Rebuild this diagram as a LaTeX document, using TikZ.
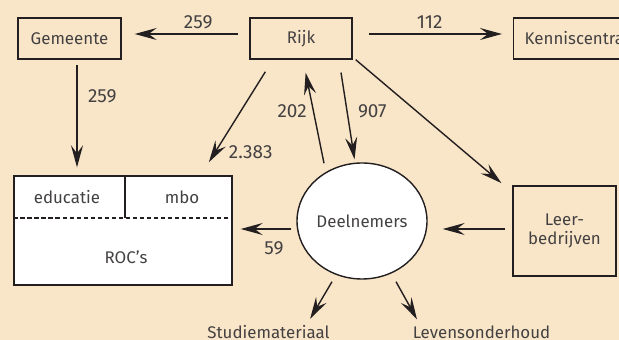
\documentclass[tikz,border=0pt]{standalone}
\usepackage{fontspec}
\setmainfont{Fira Sans}
\usepackage{tikz}
\usetikzlibrary{arrows.meta,shapes.geometric}
\definecolor{paper}{RGB}{249,230,200}
\definecolor{ink}{RGB}{35,31,32}

\begin{document}
\begin{tikzpicture}[font=\fontsize{12}{14}\selectfont, text=ink!85,
  box/.style={draw=ink, line width=1pt, minimum height=1.025cm},
  num/.style={font=\fontsize{13.5}{16}\selectfont},
  arr/.style={draw=ink, line width=1pt, -{Stealth[length=5.5mm,width=3mm,inset=2mm]}}]
  \fill[paper] (0,0) rectangle (15.475,-8.5);
  \useasboundingbox (0,0) rectangle (15.475,-8.5);
  % top row
  \node[box, minimum width=2.575cm] (gem) at (1.7375,-0.9625) {Gemeente};
  \node[box, minimum width=2.55cm] (rijk) at (7.525,-0.9625) {Rijk};
  \node[box, anchor=west, inner xsep=0.275cm] (kenn) at (12.825,-0.9625) {Kenniscentra};
  % ROC block
  \node[box, fill=white, minimum width=5.45cm, minimum height=2.725cm] (roc) at (3.075,-5.7625) {};
  \draw[ink, line width=1pt] ([xshift=0.05cm]roc.north) -- ([xshift=0.05cm]roc.north |- 0,-5.45);
  \draw[ink, line width=1pt, dash pattern=on 3pt off 2pt] (roc.west |- 0,-5.45) -- (roc.east |- 0,-5.45);
  \node (edu) at (1.675,-4.925) {educatie};
  \node (mbo) at (4.55,-4.925) {mbo};
  \node (rocs) at (3.15,-6.425) {ROC’s};
  % right part
  \node[ellipse, draw=ink, line width=1pt, fill=white, inner sep=0pt, minimum width=3.25cm, minimum height=2.9cm] (deel) at (9.05,-5.525) {Deelnemers};
  \node[box, minimum width=2.575cm, minimum height=2.25cm, align=center] (leer) at (14.1125,-5.775) {Leer-\\bedrijven};
  \node[anchor=base] (stud) at (6.7125,-8.475) {Studiemateriaal};
  \node[anchor=base] (lev) at (12.0375,-8.475) {Levensonderhoud};
  % flows
  \draw[arr, shorten <=0.275cm, shorten >=0.325cm] ([yshift=0.1125cm]rijk.west) -- node[num, pos=0.4, above]{259} ([yshift=0.1125cm]gem.east);
  \draw[arr, shorten <=0.4cm, shorten >=0.275cm] ([yshift=0.1125cm]rijk.east) -- node[num, pos=0.48, above]{112} ([yshift=0.1125cm]kenn.west);
  \draw[arr, shorten <=0.125cm, shorten >=0.2cm] ([xshift=0.1875cm]gem.south) -- node[num, pos=0.32, right=4pt]{259} ([xshift=0.1875cm]gem.south |- roc.north);
  \draw[arr, shorten <=0.355cm, shorten >=0.385cm] ([xshift=0.59cm]rijk.south west) -- node[num, pos=0.8, right=6pt]{2.383} ([xshift=-0.8cm]roc.north east);
  \draw[arr, shorten >=0.33cm] ([xshift=-0.95cm,yshift=-0.025cm]deel.north) -- node[num, pos=0.5, left=1pt]{202} ([xshift=0.05cm]rijk.south);
  \draw[arr, shorten <=0.325cm, shorten >=0.075cm] ([xshift=0.95cm]rijk.south) -- node[num, pos=0.5, right=4pt]{907} ([xshift=-0.175cm]deel.north);
  \draw[arr, shorten >=0.355cm] ([xshift=0.075cm]rijk.south east) -- ([yshift=-0.175cm]leer.north west);
  \draw[arr, shorten <=0.175cm, shorten >=0.375cm] ([yshift=0.05cm]leer.west) -- ([yshift=0.05cm]leer.west -| deel.east);
  \draw[arr, shorten <=0.125cm, shorten >=0.2cm] ([yshift=-0.2cm]deel.west) -- node[num, pos=0.35, below=5pt]{59} ([yshift=-0.2cm]deel.west -| roc.east);
  \draw[arr] ([xshift=-0.75cm,yshift=-0.05cm]deel.south) -- ([xshift=1.04cm,yshift=0.05cm]stud.north);
  \draw[arr] ([xshift=0.85cm,yshift=-0.05cm]deel.south) -- ([xshift=-1.6125cm,yshift=0.05cm]lev.north);
\end{tikzpicture}
\end{document}
